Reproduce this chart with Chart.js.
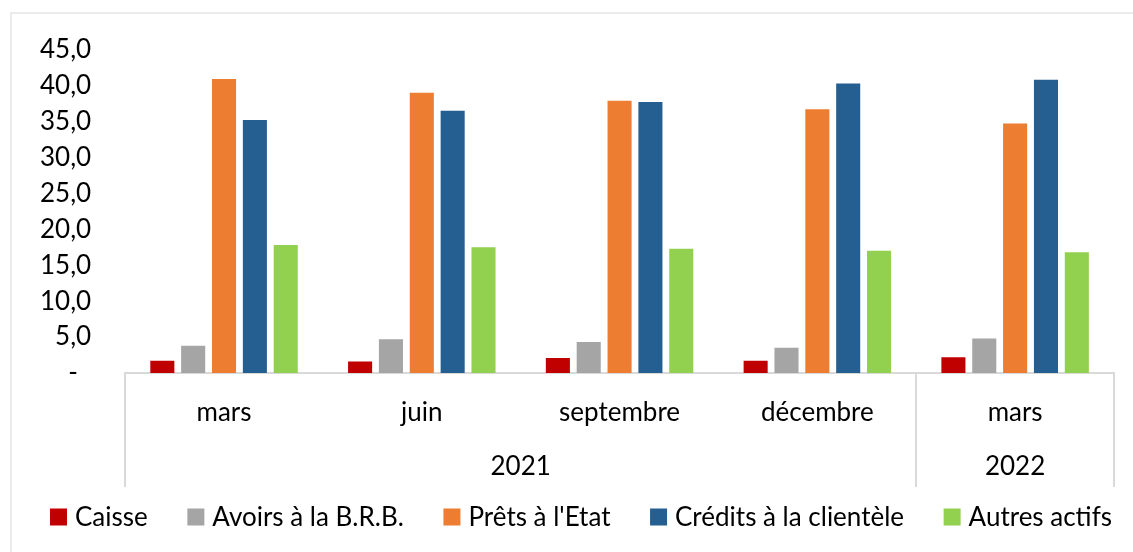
<!DOCTYPE html>
<html>
<head>
<meta charset="utf-8">
<script src="https://cdn.jsdelivr.net/npm/chart.js@4"></script>
<style>
  html, body { margin: 0; padding: 0; background: #fff; overflow: hidden; }
  #frame { position: absolute; left: 10px; top: 12px; width: 1200px; height: 600px;
           border-left: 2px solid #ebebeb; border-top: 2px solid #ebebeb; }
  #wrap { position: absolute; left: 0; top: 0; width: 1133px; height: 552px; }
</style>
</head>
<body>
<div id="frame"></div>
<div id="wrap"><canvas id="chart"></canvas></div>
<script>
// categories (two levels: month / year)
const months = ['mars', 'juin', 'septembre', 'décembre', 'mars'];
const years = ['2021', '2021', '2021', '2021', '2022'];

// series values
const caisse = [1.7, 1.6, 2.1, 1.7, 2.2];
const avoirsBRB = [3.8, 4.7, 4.3, 3.5, 4.8];
const pretsEtat = [40.9, 39.0, 37.9, 36.7, 34.7];
const creditsClientele = [35.2, 36.5, 37.7, 40.3, 40.8];
const autresActifs = [17.8, 17.5, 17.3, 17.0, 16.8];

const seriesNames = ['Caisse', 'Avoirs à la B.R.B.', "Prêts à l'Etat", 'Crédits à la clientèle', 'Autres actifs'];
const seriesColors = ['#c00000', '#a5a5a5', '#ed7d31', '#255e91', '#92d050'];
const seriesData = [caisse, avoirsBRB, pretsEtat, creditsClientele, autresActifs];

const FONT = 'Lato, "Open Sans", sans-serif';
const AXIS_COLOR = '#d9d9d9';
const XAXIS_HEIGHT = 114;

// year row + group separators under the month labels, and the legend row
const groupAxis = {
    id: 'groupAxis',
    afterDraw(chart) {
        const ctx = chart.ctx;
        const x = chart.scales.x;
        const top = x.top;
        const bottom = top + XAXIS_HEIGHT;
        const step = (x.right - x.left) / months.length;
        ctx.save();
        ctx.strokeStyle = AXIS_COLOR;
        ctx.lineWidth = 2;
        ctx.fillStyle = '#000';
        ctx.font = '26px ' + FONT;
        ctx.textAlign = 'center';
        ctx.textBaseline = 'middle';
        let start = 0;
        for (let i = 1; i <= months.length; i++) {
            if (i === months.length || years[i] !== years[i - 1]) {
                const x0 = x.getPixelForValue(start) - step / 2;
                const x1 = x.getPixelForValue(i - 1) + step / 2;
                ctx.fillText(years[start], (x0 + x1) / 2, top + 94);
                start = i;
            }
        }
        const edges = [0];
        for (let i = 1; i < months.length; i++) if (years[i] !== years[i - 1]) edges.push(i);
        edges.push(months.length);
        edges.forEach(i => {
            const px = Math.round(x.left + i * step);
            ctx.beginPath();
            ctx.moveTo(px, top);
            ctx.lineTo(px, bottom);
            ctx.stroke();
        });

        // legend
        const legLeft = 50, legRight = 1112, legY = 517, box = 17, textGap = 8;
        ctx.textAlign = 'left';
        const widths = chart.data.datasets.map(ds => ctx.measureText(ds.label).width);
        const used = widths.reduce((a, b) => a + b, 0) + widths.length * (box + textGap);
        const gap = (legRight - legLeft - used) / (widths.length - 1);
        let lx = legLeft;
        chart.data.datasets.forEach((ds, i) => {
            ctx.fillStyle = ds.backgroundColor;
            ctx.fillRect(lx, legY - box / 2, box, box);
            ctx.fillStyle = '#000';
            ctx.fillText(ds.label, lx + box + textGap, legY + 1);
            lx += box + textGap + widths[i] + gap;
        });
        ctx.restore();
    }
};

new Chart(document.getElementById('chart'), {
    type: 'bar',
    data: {
        labels: months,
        datasets: seriesData.map((d, i) => ({
            label: seriesNames[i],
            data: d,
            backgroundColor: seriesColors[i],
            barPercentage: 0.78,
            categoryPercentage: 0.78
        }))
    },
    options: {
        responsive: true,
        maintainAspectRatio: false,
        animation: false,
        layout: { padding: { top: 22, left: 6, right: 19, bottom: 65 } },
        plugins: {
            tooltip: { enabled: false },
            legend: { display: false }
        },
        scales: {
            x: {
                grid: { display: false, drawTicks: false },
                border: { display: true, color: AXIS_COLOR, width: 2 },
                ticks: { font: { family: FONT, size: 26 }, color: '#000', padding: 24, maxRotation: 0 },
                afterFit(scale) { scale.height = XAXIS_HEIGHT; }
            },
            y: {
                min: 0,
                max: 45,
                grid: { display: false, drawTicks: false },
                border: { display: false },
                ticks: {
                    stepSize: 5,
                    font: { family: FONT, size: 26 },
                    color: '#000',
                    padding: 34,
                    callback: v => v === 0 ? '-  ' : v.toFixed(1).replace('.', ',')
                }
            }
        }
    },
    plugins: [groupAxis]
});
</script>
</body>
</html>
